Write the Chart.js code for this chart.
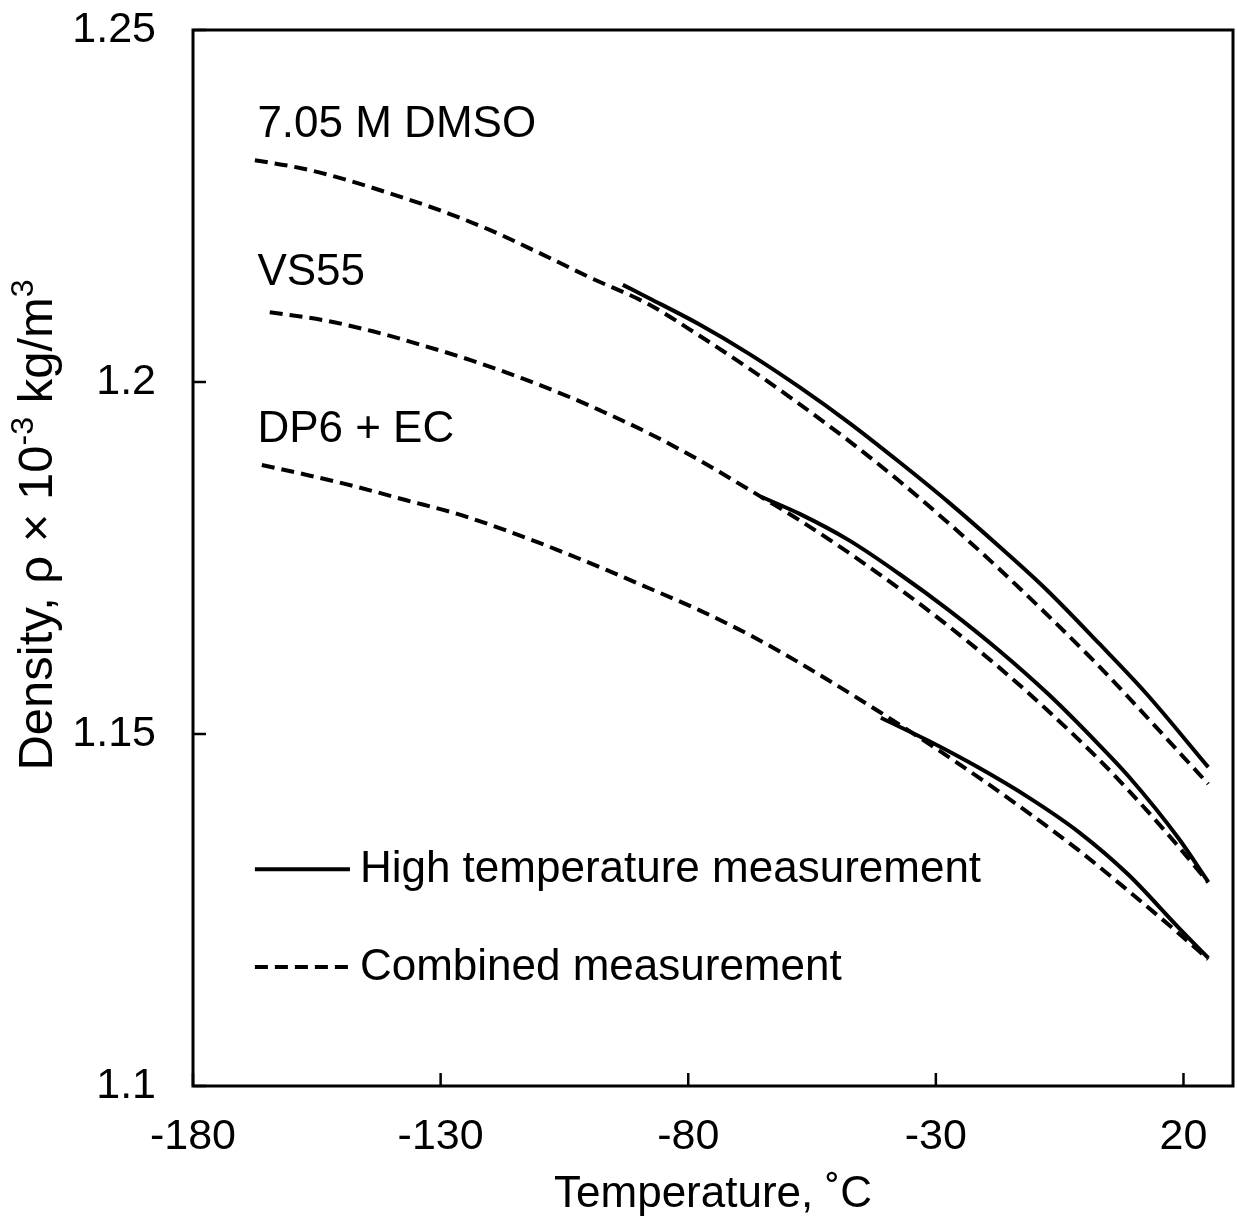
<!DOCTYPE html>
<html><head><meta charset="utf-8">
<script src="https://cdn.jsdelivr.net/npm/chart.js@4/dist/chart.umd.min.js"></script>
<style>html,body{margin:0;padding:0;background:#fff;}canvas{display:block;}</style>
</head><body>
<canvas id="c" width="1237" height="1224"></canvas>
<script>
// ---- data ----
const xTickValues = [-180, -130, -80, -30, 20];
const xTickLabels = ['-180', '-130', '-80', '-30', '20'];
const yTickValues = [1.1, 1.15, 1.2, 1.25];
const yTickLabels = ['1.1', '1.15', '1.2', '1.25'];

const dmsoCombinedT   = [-167.5,-158.4,-150.4,-140.3,-130.2,-120.1,-110.0,-100.0,-87.9,-77.8,-67.7,-57.6,-47.5,-37.5,-28.0,-17.3,2.3,8.9,25.0];
const dmsoCombinedRho = [1.2315,1.2304,1.2290,1.2268,1.2244,1.2216,1.2183,1.2149,1.2110,1.2066,1.2019,1.1969,1.1916,1.1860,1.1803,1.1735,1.1601,1.1552,1.1429];
const dmsoHighT       = [-93.2,-87.9,-77.8,-67.7,-57.6,-47.5,-37.5,-27.4,-17.3,-7.8,2.9,12.3,25.0];
const dmsoHighRho     = [1.2138,1.2119,1.2082,1.2040,1.1993,1.1942,1.1887,1.1829,1.1767,1.1706,1.1629,1.1559,1.1453];

const vs55CombinedT   = [-164.5,-153.8,-143.7,-133.6,-123.5,-113.5,-103.4,-97.9,-87.9,-77.8,-67.7,-65.1,-57.6,-47.5,-37.5,-27.4,-17.3,-7.2,2.9,8.9,19.0,25.0];
const vs55CombinedRho = [1.2099,1.2088,1.2072,1.2052,1.2030,1.2005,1.1977,1.1960,1.1927,1.1889,1.1847,1.1836,1.1804,1.1757,1.1707,1.1653,1.1595,1.1532,1.1464,1.1420,1.1340,1.1289];
const vs55HighT       = [-65.3,-57.6,-47.5,-37.5,-27.4,-17.3,-7.2,2.9,8.9,19.0,25.0];
const vs55HighRho     = [1.1837,1.1813,1.1775,1.1728,1.1676,1.1619,1.1556,1.1485,1.1440,1.1352,1.1290];

const dp6CombinedT    = [-166.1,-157.0,-146.9,-136.9,-126.8,-116.7,-106.6,-96.5,-87.9,-77.8,-67.7,-60.2,-51.6,-41.5,-31.4,-21.3,-11.3,-1.2,8.9,19.0,25.0];
const dp6CombinedRho  = [1.1882,1.1868,1.1851,1.1832,1.1813,1.1789,1.1762,1.1733,1.1707,1.1676,1.1641,1.1612,1.1576,1.1532,1.1486,1.1438,1.1388,1.1335,1.1277,1.1217,1.1180];
const dp6HighT        = [-41.1,-31.4,-21.3,-11.3,-1.2,8.9,19.0,25.0];
const dp6HighRho      = [1.1523,1.1490,1.1452,1.1410,1.1361,1.1300,1.1225,1.1182];

const curveNames = ['7.05 M DMSO', 'VS55', 'DP6 + EC'];
const legendNames = ['High temperature measurement', 'Combined measurement'];
const xTitle = 'Temperature, \u02DAC';
const yTitleParts = ['Density, \u03C1 \u00D7 10', '-3', ' kg/m', '3'];

// ---- layout (positions in data units) ----
const curveNameAt = { t: -167, rho: [1.2348, 1.2138, 1.1915] };
const legendAt = { t0: -167.5, t1: -148.3, tText: -146.3, rho: [1.1308, 1.1169] };

const FONT = '"Liberation Sans", Arial, sans-serif';
const DASH = [13, 7];
const toPts = (t, r) => t.map((v, i) => ({ x: v, y: r[i] }));

function ds(t, r, dashed) {
  return {
    data: toPts(t, r), borderColor: '#000', borderWidth: 4,
    borderDash: dashed ? DASH : [], pointRadius: 0,
    cubicInterpolationMode: 'monotone', fill: false
  };
}

const framePlugin = {
  id: 'frame',
  afterDraw(chart) {
    const { ctx, chartArea: a, scales: { x, y } } = chart;
    ctx.save();
    ctx.strokeStyle = '#000';
    ctx.lineWidth = 3;
    ctx.strokeRect(a.left, a.top, a.right - a.left, a.bottom - a.top);
    ctx.lineWidth = 2.5;
    xTickValues.forEach(v => {
      const px = x.getPixelForValue(v);
      ctx.beginPath(); ctx.moveTo(px, a.bottom); ctx.lineTo(px, a.bottom - 13); ctx.stroke();
    });
    yTickValues.forEach(v => {
      const py = y.getPixelForValue(v);
      ctx.beginPath(); ctx.moveTo(a.left, py); ctx.lineTo(a.left + 13, py); ctx.stroke();
    });
    ctx.fillStyle = '#000';
    ctx.font = '44px ' + FONT;
    ctx.textAlign = 'left';
    ctx.textBaseline = 'alphabetic';
    curveNames.forEach((n, i) => {
      ctx.fillText(n, x.getPixelForValue(curveNameAt.t), y.getPixelForValue(curveNameAt.rho[i]));
    });
    // legend
    ctx.lineWidth = 4;
    legendNames.forEach((n, i) => {
      const py = y.getPixelForValue(legendAt.rho[i]);
      ctx.setLineDash(i === 0 ? [] : DASH);
      ctx.beginPath();
      ctx.moveTo(x.getPixelForValue(legendAt.t0), py);
      ctx.lineTo(x.getPixelForValue(legendAt.t1), py);
      ctx.stroke();
      ctx.setLineDash([]);
      ctx.textBaseline = 'middle';
      ctx.fillText(n, x.getPixelForValue(legendAt.tText), py + 1);
    });
    // y-axis title with superscripts
    const mainF = '49px ' + FONT, supF = '32px ' + FONT;
    const widths = yTitleParts.map((p, i) => { ctx.font = (i % 2) ? supF : mainF; return ctx.measureText(p).width; });
    const total = widths.reduce((s, w) => s + w, 0);
    const cx = a.left - 141, cy = (a.top + a.bottom) / 2 - 33;
    ctx.translate(cx, cy);
    ctx.rotate(-Math.PI / 2);
    ctx.textBaseline = 'alphabetic';
    let pos = -total / 2;
    yTitleParts.forEach((p, i) => {
      const sup = i % 2 === 1;
      ctx.font = sup ? supF : mainF;
      ctx.fillText(p, pos, sup ? -19 : 0);
      pos += widths[i];
    });
    ctx.restore();
  }
};

new Chart(document.getElementById('c'), {
  type: 'line',
  data: {
    datasets: [
      ds(dmsoCombinedT, dmsoCombinedRho, true),
      ds(dmsoHighT, dmsoHighRho, false),
      ds(vs55CombinedT, vs55CombinedRho, true),
      ds(vs55HighT, vs55HighRho, false),
      ds(dp6CombinedT, dp6CombinedRho, true),
      ds(dp6HighT, dp6HighRho, false)
    ]
  },
  options: {
    responsive: false,
    animation: false,
    layout: { padding: { top: 30, right: 4, left: 0, bottom: 0 } },
    plugins: { legend: { display: false }, tooltip: { enabled: false } },
    scales: {
      x: {
        type: 'linear', min: -180, max: 30,
        grid: { display: false, drawTicks: false },
        border: { display: false },
        afterBuildTicks: s => { s.ticks = xTickValues.map(v => ({ value: v })); },
        afterFit: s => { s.height = 138; s.paddingLeft = 0; s.paddingRight = 0; s.paddingTop = 0; s.paddingBottom = 0; },
        ticks: {
          color: '#000', font: { family: FONT, size: 43 }, padding: 25,
          maxRotation: 0, autoSkip: false,
          callback: (v) => xTickLabels[xTickValues.indexOf(v)]
        },
        title: { display: true, text: xTitle, color: '#000', font: { family: FONT, size: 44 }, padding: { top: 0, bottom: 3 } }
      },
      y: {
        type: 'linear', min: 1.1, max: 1.25,
        grid: { display: false, drawTicks: false },
        border: { display: false },
        afterBuildTicks: s => { s.ticks = yTickValues.map(v => ({ value: v })); },
        afterFit: s => { s.width = 193; s.paddingTop = 0; s.paddingBottom = 0; s.paddingLeft = 0; s.paddingRight = 0; },
        ticks: {
          color: '#000', font: { family: FONT, size: 43 }, padding: 37, autoSkip: false,
          callback: (v) => { const i = yTickValues.findIndex(t => Math.abs(t - v) < 1e-9); return yTickLabels[i]; }
        },
        title: { display: false }
      }
    }
  },
  plugins: [framePlugin]
});
</script>
</body></html>
